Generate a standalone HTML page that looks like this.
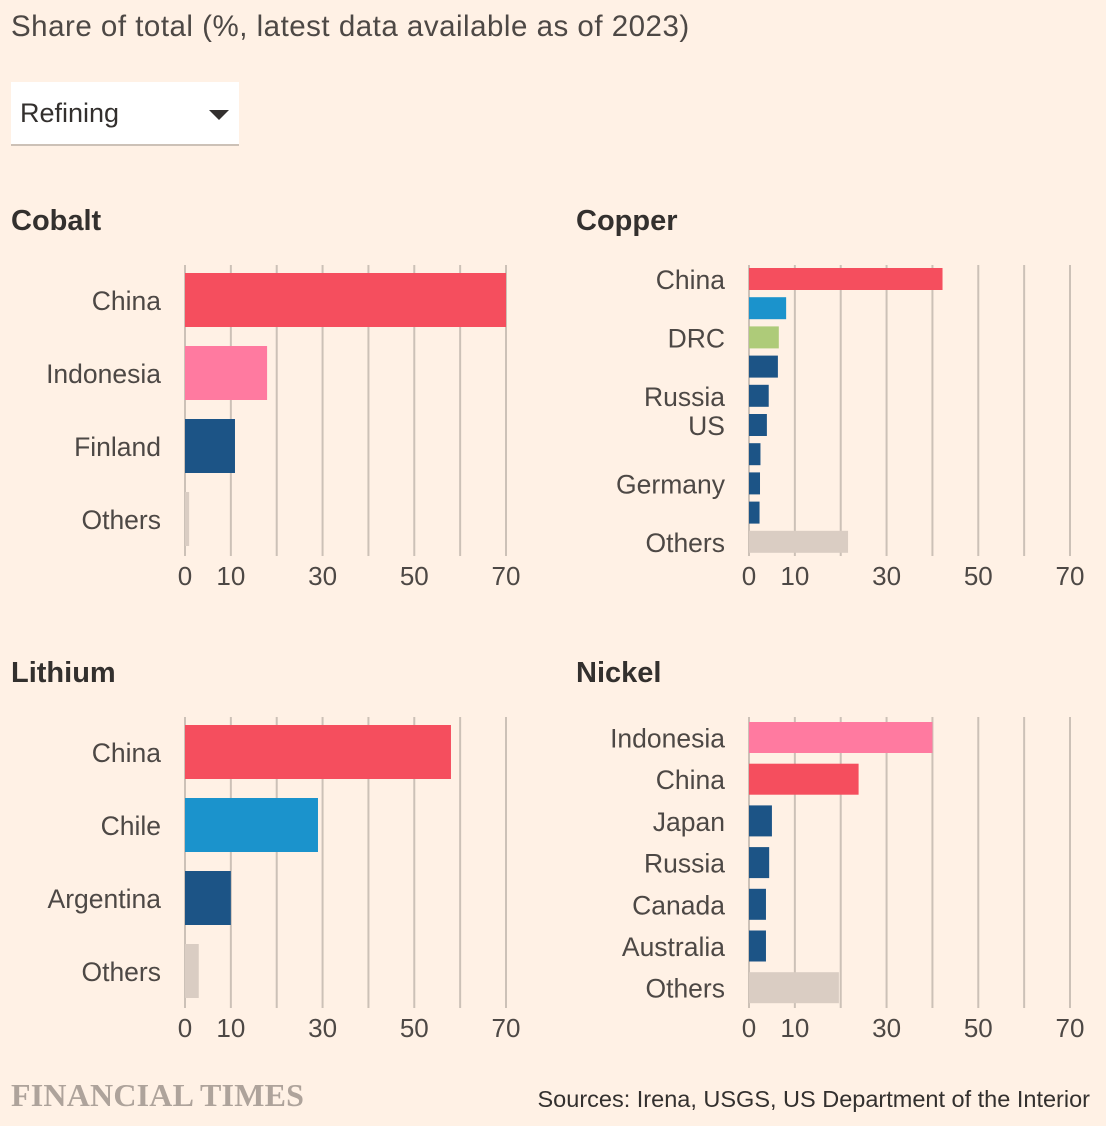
<!DOCTYPE html>
<html><head><meta charset="utf-8">
<style>
body{margin:0;background:#fff1e5;width:1106px;height:1126px;overflow:hidden;font-family:"Liberation Sans",sans-serif;color:#33302e;position:relative}
.abs{position:absolute}
#sub{left:11px;top:10px;font-size:29.5px;letter-spacing:0.5px;color:#4d4845}
#dd{left:11px;top:82px;width:228px;height:62px;background:#fff;border-bottom:2px solid #ccc1b7}
#dd span{position:absolute;left:9px;top:16px;font-size:27px;color:#33302e}
#dd i{position:absolute;right:10px;top:28px;width:0;height:0;border-left:10px solid transparent;border-right:10px solid transparent;border-top:10px solid #33302e}
.title{font-size:29px;font-weight:bold;color:#33302e}
#ft{left:11px;top:1077px;font-family:"Liberation Serif",serif;font-size:32px;color:#aea39b;letter-spacing:0.2px;font-weight:bold}
#src{right:16px;top:1086px;font-size:23.5px;color:#33302e}
svg text{font-family:"Liberation Sans",sans-serif;fill:#4d4845}
</style></head><body>
<div id="sub" class="abs">Share of total (%, latest data available as of 2023)</div>
<div id="dd" class="abs"><span>Refining</span><i></i></div>
<div class="abs title" style="left:11px;top:205px">Cobalt</div>
<div class="abs title" style="left:576px;top:205px">Copper</div>
<div class="abs title" style="left:11px;top:657px">Lithium</div>
<div class="abs title" style="left:576px;top:657px">Nickel</div>
<svg id="chart" class="abs" style="left:0;top:0" width="1106" height="1126"></svg>
<div id="ft" class="abs">FINANCIAL TIMES</div>
<div id="src" class="abs">Sources: Irena, USGS, US Department of the Interior</div>
<script>
const tickValues=[0,10,30,50,70];
const gridValues=[0,10,20,30,40,50,60,70];
const cobaltLabels=["China","Indonesia","Finland","Others"];
const cobaltValues=[70,17.9,10.9,0.9];
const cobaltColors=["#f54e5e","#ff7aa0","#1c5486","#dacdc3"];
const copperLabels=["China","","DRC","","Russia","US","","Germany","","Others"];
const copperValues=[42.2,8.1,6.5,6.3,4.3,3.9,2.5,2.4,2.3,21.6];
const copperColors=["#f54e5e","#1b93cc","#aecb79","#1c5486","#1c5486","#1c5486","#1c5486","#1c5486","#1c5486","#dacdc3"];
const lithiumLabels=["China","Chile","Argentina","Others"];
const lithiumValues=[58,29,10,3];
const lithiumColors=["#f54e5e","#1b93cc","#1c5486","#dacdc3"];
const nickelLabels=["Indonesia","China","Japan","Russia","Canada","Australia","Others"];
const nickelValues=[40,23.9,5,4.4,3.7,3.7,19.6];
const nickelColors=["#ff7aa0","#f54e5e","#1c5486","#1c5486","#1c5486","#1c5486","#dacdc3"];

const svg=document.getElementById('chart');
const NS="http://www.w3.org/2000/svg";
function mk(t,a){const e=document.createElementNS(NS,t);for(const k in a)e.setAttribute(k,a[k]);svg.appendChild(e);return e;}
function panel(name,labels,values,colors,x0,gTop,gBot,firstY,step,barH,tickY){
  const sx=v=>x0+v*321/70;
  gridValues.forEach(v=>{
    const l=mk('line',{x1:sx(v),x2:sx(v),y1:gTop,y2:gBot,stroke:'#ccc1b7','stroke-width':2});
    
    
  });
  values.forEach((v,i)=>{
    const y=firstY+i*step;
    const r=mk('rect',{x:sx(0),y:y,width:Math.max(sx(v)-sx(0),1),height:barH,fill:colors[i]});
    
    
    if(labels[i]){
      const t=mk('text',{x:x0-24,y:y+barH/2+10,'text-anchor':'end','font-size':26.5});
      t.textContent=labels[i];
      
      
    }
  });
  tickValues.forEach(v=>{
    const t=mk('text',{x:sx(v),y:tickY,'text-anchor':'middle','font-size':26});
    t.textContent=v;
    
    
  });
}
panel('cobalt',cobaltLabels,cobaltValues,cobaltColors,185,265,556,273,73,54,585);
panel('copper',copperLabels,copperValues,copperColors,749,265,556,268,29.2,22,585);
panel('lithium',lithiumLabels,lithiumValues,lithiumColors,185,717,1008,725,73,54,1037);
panel('nickel',nickelLabels,nickelValues,nickelColors,749,717,1008,722,41.7,31,1037);
</script>
</body></html>
